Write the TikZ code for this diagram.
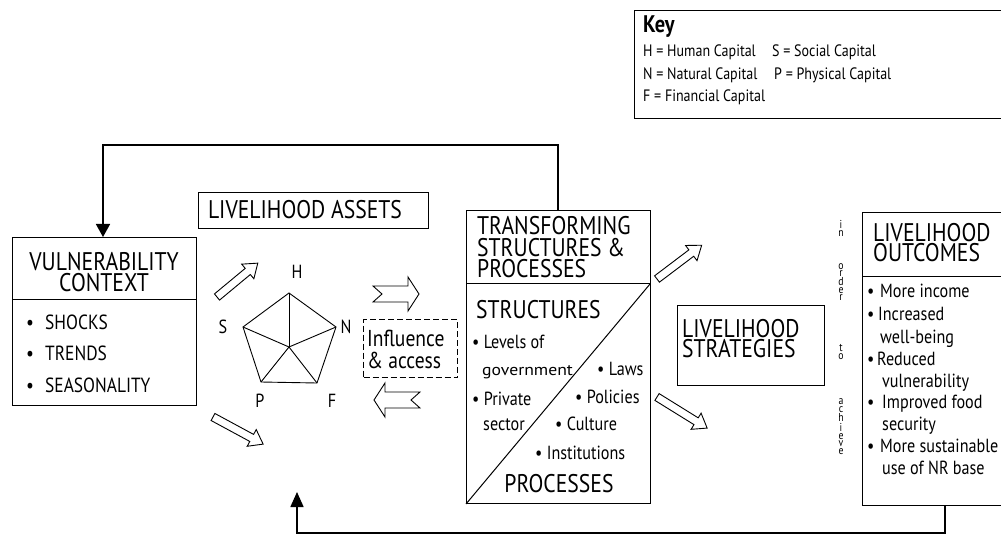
\documentclass[tikz,border=0pt]{standalone}
\usepackage{fontspec}
\usepackage{graphicx}
\setmainfont{PT Sans}[FakeStretch=0.85]
\usetikzlibrary{arrows.meta}
\begin{document}
\begin{tikzpicture}[x=1pt,y=-1pt,
  box/.style={draw, line width=1pt, inner sep=0pt, anchor=north west},
  fb/.style={line width=1.6pt},
  ttl/.style={font=\fontsize{25.5}{25.5}\selectfont, inner sep=0pt, anchor=base west},
  itm/.style={font=\fontsize{20.5}{20.5}\selectfont, inner sep=0pt, anchor=base west},
  sitm/.style={font=\fontsize{19}{19}\selectfont, inner sep=0pt, anchor=base west},
  keyt/.style={font=\fontsize{16.5}{16.5}\selectfont, inner sep=0pt, anchor=base west},
  lett/.style={font=\fontsize{19}{19}\selectfont, inner sep=0pt, anchor=base},
  vword/.style={inner sep=0pt, align=center, anchor=center},
  pics/openarr/.style={code={
    \draw[line width=0.9pt, line join=miter, fill=white]
      (0,-4) -- ({#1-13},-4) -- ({#1-13},-9.5) -- (#1,0) -- ({#1-13},9.5) -- ({#1-13},4) -- (0,4) -- cycle;}},
  pics/notcharr/.style={code={
    \draw[line width=0.9pt, line join=miter, fill=white]
      (0,-8) -- (35,-8) -- (35,-17) -- (46,0) -- (35,17) -- (35,8) -- (0,8) -- (9,0) -- cycle;}}
]
\useasboundingbox (0,0) rectangle (1001,537);

% Key
\node[box, minimum width=380pt, minimum height=108pt] (key) at (634,10) {};
\node[font=\bfseries\fontsize{24}{24}\selectfont, inner sep=0pt, anchor=base west] (keyk) at (643,33) {Key};
\node[keyt] (kH) at (643,57) {H = Human Capital};
\node[keyt] (kS) at (772,57) {S = Social Capital};
\node[keyt] (kN) at (643,80) {N = Natural Capital};
\node[keyt] (kP) at (774,80) {P = Physical Capital};
\node[keyt] (kF) at (643,102) {F = Financial Capital};

% Vulnerability context
\node[box, minimum width=184pt, minimum height=168pt] (vuln) at (12,237) {};
\draw[line width=1pt] (12,300) -- (196,300);
\node[ttl, anchor=base] (v1) at (104,271) {VULNERABILITY};
\node[ttl, anchor=base] (v2) at (104,291) {CONTEXT};
\node[itm] (vb1) at (26,329) {•};
\node[itm] (vs1) at (45,329) {SHOCKS};
\node[itm] (vb2) at (26,360) {•};
\node[itm] (vs2) at (45,360) {TRENDS};
\node[itm] (vb3) at (26,392) {•};
\node[itm] (vs3) at (45,392) {SEASONALITY};

% Livelihood assets
\node[box, minimum width=230pt, minimum height=36pt] (assets) at (198,192) {};
\node[ttl, anchor=base] (at) at (305,219) {LIVELIHOOD ASSETS};

% pentagon
\coordinate (pH) at (289,293);
\coordinate (pN) at (336,327);
\coordinate (pF) at (317,383);
\coordinate (pP) at (261,382);
\coordinate (pS) at (243,327);
\coordinate (pC) at (289,347);
\draw[line width=0.9pt, line join=miter] (pH) -- (pN) -- (pF) -- (pP) -- (pS) -- cycle;
\foreach \v in {pH,pN,pF,pP,pS} \draw[line width=0.9pt] (pC) -- (\v);
\node[lett] (lH) at (297,279) {H};
\node[lett] (lS) at (223,334) {S};
\node[lett] (lN) at (346,334) {N};
\node[lett] (lP) at (260,407) {P};
\node[lett] (lF) at (332,407) {F};

% open arrows
\path (217,297) pic[rotate=39.7] {openarr=53};
\path (213,417) pic[rotate=-28.4] {openarr=57};
\path (657,279) pic[rotate=37.1] {openarr=56};
\path (657,397) pic[rotate=-31.8] {openarr=59};
\path (373,294) pic {notcharr};
\path (420,400) pic[rotate=180] {notcharr};

% influence & access
\node[box, dash pattern=on 6pt off 3pt, line width=1.2pt, minimum width=94pt, minimum height=58pt] (inf) at (363,319) {};
\node[font=\fontsize{23}{23}\selectfont, inner sep=0pt, anchor=base west] (inf1) at (367,346) {Influence};
\node[font=\fontsize{23}{23}\selectfont, inner sep=0pt, anchor=base west] (inf2) at (367,368) {\& access};

% Transforming structures
\node[box, minimum width=184pt, minimum height=293pt] (trans) at (466,210) {};
\draw[line width=1pt] (466,284) -- (650,284);
\coordinate (dg) at (650,284);
\draw[line width=1pt] (trans.south west) -- (dg);
\node[ttl] (t1) at (477,235) {TRANSFORMING};
\node[ttl] (t2) at (477,257) {STRUCTURES \&};
\node[ttl] (t3) at (477,278) {PROCESSES};
\node[ttl] (t4) at (476,319) {STRUCTURES};
\node[sitm] (s1) at (472,348) {• Levels of};
\node[font=\fontsize{16}{16}\selectfont, inner sep=0pt, anchor=base west] (s2) at (482,375) {\scalebox{1.3}[1]{government}};
\node[sitm] (s3) at (597,375) {• Laws};
\node[sitm] (s4) at (472,405) {• Private};
\node[sitm] (s5) at (575,403) {• Policies};
\node[sitm] (s6) at (483,430) {sector};
\node[sitm] (s7) at (555,430) {• Culture};
\node[sitm] (s8) at (535,459) {• Institutions};
\node[ttl, anchor=base] (t5) at (559,492) {PROCESSES};

% Livelihood strategies
\node[box, minimum width=147pt, minimum height=80pt] (strat) at (677,305) {};
\node[ttl] (st1) at (682,337) {LIVELIHOOD};
\node[ttl] (st2) at (682,357) {STRATEGIES};

% in order to achieve
\node[vword, font=\fontsize{11.5}{8}\selectfont] (w1) at (841,228) {i\\n};
\node[vword, font=\fontsize{11.5}{7.6}\selectfont] (w2) at (841,282) {o\\r\\d\\e\\r};
\node[vword, font=\fontsize{11.5}{8}\selectfont] (w3) at (841,352) {t\\o};
\node[vword, font=\fontsize{11.5}{7.9}\selectfont] (w4) at (841,427) {a\\c\\h\\i\\e\\v\\e};

% Livelihood outcomes
\node[box, minimum width=150pt, minimum height=293pt] (out) at (862,212) {};
\draw[line width=1pt] (862,277) -- (1012,277);
\node[ttl] (o1) at (873,242) {LIVELIHOOD};
\node[ttl] (o2) at (873,262) {OUTCOMES};
\node[sitm] (ob1) at (867,298) {•};
\node[sitm] (oi1) at (880,298) {More income};
\node[sitm] (ob2) at (867,320) {•};
\node[sitm] (oi2) at (878,320) {Increased};
\node[sitm] (oi3) at (880,343) {well-being};
\node[sitm] (ob4) at (867,365) {•};
\node[sitm] (oi4) at (877,365) {Reduced};
\node[sitm] (oi5) at (882,387) {vulnerability};
\node[sitm] (ob6) at (867,408) {•};
\node[sitm] (oi6) at (882,408) {Improved food};
\node[sitm] (oi7) at (882,430) {security};
\node[sitm] (ob8) at (867,452) {•};
\node[sitm] (oi8) at (880,452) {More sustainable};
\node[sitm] (oi9) at (882,474) {use of NR base};

% feedback loops
\coordinate (ft1) at (558,145);
\coordinate (ft2) at (103,145);
\draw[fb, -{Triangle[length=13pt,width=14pt]}] (trans.north -| ft1) -- (ft1) -- (ft2) -- (ft2 |- vuln.north);
\coordinate (fb1) at (945,533);
\coordinate (fb2) at (297,533);
\coordinate (fb3) at (297,492);
\draw[fb, -{Triangle[length=15pt,width=13pt]}] (out.south -| fb1) -- (fb1) -- (fb2) -- (fb3);
\end{tikzpicture}
\end{document}
